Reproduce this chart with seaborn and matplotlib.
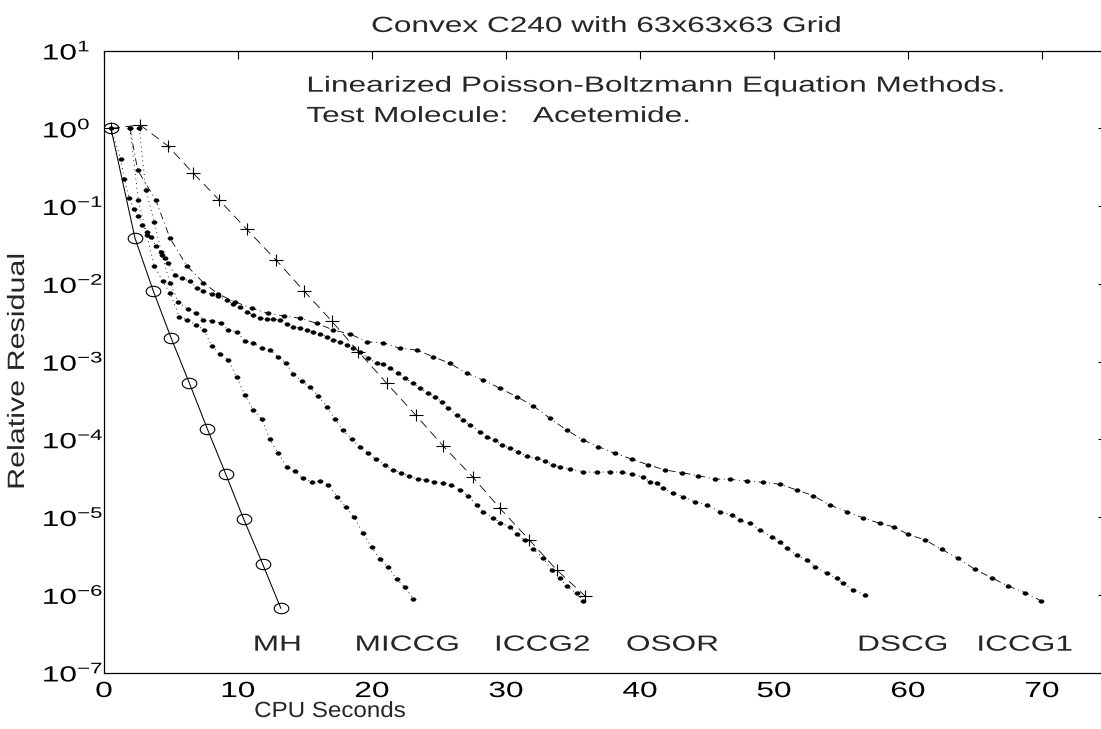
import numpy as np
import matplotlib
matplotlib.use("Agg")
import matplotlib.pyplot as plt
import seaborn as sns
import matplotlib.patheffects as pe
from matplotlib.transforms import Affine2D
from matplotlib.path import Path
from matplotlib.ticker import FixedLocator, LogLocator, NullLocator, NullFormatter, FuncFormatter

# ---------------- data ----------------
mh_x = [0.52, 2.31, 3.68, 5.00, 6.37, 7.71, 9.08, 10.42, 11.84, 13.20]
mh_y = [1.0, 3.9e-2, 8.1e-3, 2.04e-3, 5.3e-4, 1.37e-4, 3.6e-5, 9.5e-6, 2.5e-6, 6.7e-7]

osor_x = [0.52, 2.69, 4.75, 6.62, 8.60, 10.65, 12.84, 14.93, 16.99, 18.98, 21.10, 23.26,
          25.32, 27.51, 29.55, 31.74, 33.78, 35.90]
osor_y = [1.0, 1.11, 0.60, 0.27, 0.120, 0.0505, 0.0203, 8.1e-3, 3.33e-3, 1.35e-3, 5.27e-4,
          2.06e-4, 8.2e-5, 3.3e-5, 1.3e-5, 5.1e-6, 2.1e-6, 9.7e-7]

miccg_x = [1.94, 2.56, 3.19, 3.75, 4.37, 4.93, 5.62, 6.22, 6.87, 7.46, 8.04, 8.66, 9.28,
           9.90, 10.52, 11.14, 11.77, 12.39, 13.01, 13.63, 14.25, 14.87, 15.50, 16.12,
           16.74, 17.41, 18.06, 18.68, 19.31, 19.98, 20.60, 21.22, 21.84, 22.46, 23.08]
miccg_y = [1.0, 0.120, 0.0427, 0.0172, 0.0109, 7.6e-3, 3.79e-3, 3.44e-3, 2.97e-3, 2.56e-3,
           1.59e-3, 1.26e-3, 1.05e-3, 6.3e-4, 3.73e-4, 2.39e-4, 1.82e-4, 1.00e-4, 6.6e-5,
           4.46e-5, 3.96e-5, 3.16e-5, 2.86e-5, 2.92e-5, 2.60e-5, 1.83e-5, 1.34e-5, 9.96e-6,
           6.3e-6, 4.1e-6, 2.87e-6, 2.26e-6, 1.59e-6, 1.25e-6, 9.0e-7]

iccg2_x = [2.63, 3.13, 3.75, 4.33, 4.93, 5.54, 6.25, 6.87, 7.41, 8.08, 8.71, 9.28, 9.90,
           10.52, 11.14, 11.77, 12.39, 13.01, 13.58, 14.13, 14.75, 15.37, 15.99, 16.62,
           17.24, 17.81, 18.49, 19.10, 19.72, 20.30, 20.97, 21.54, 22.16, 22.78, 23.41,
           24.03, 24.65, 25.32, 25.90, 26.57, 27.14, 27.81, 28.31, 29.05, 29.55, 30.30,
           30.80, 31.42, 32.04, 32.78, 33.41, 34.03, 34.53, 35.28, 35.77]
iccg2_y = [1.0, 0.162, 0.063, 0.0236, 0.0103, 5.9e-3, 4.72e-3, 4.19e-3, 3.44e-3, 3.34e-3,
           3.12e-3, 2.56e-3, 2.43e-3, 1.85e-3, 1.75e-3, 1.49e-3, 1.41e-3, 1.16e-3, 9.5e-4,
           6.95e-4, 5.65e-4, 4.69e-4, 3.62e-4, 2.64e-4, 1.83e-4, 1.32e-4, 1.00e-4, 8.1e-5,
           6.6e-5, 5.6e-5, 4.7e-5, 4.05e-5, 3.74e-5, 3.39e-5, 3.07e-5, 3.01e-5, 2.86e-5,
           2.78e-5, 2.60e-5, 2.24e-5, 1.89e-5, 1.43e-5, 1.18e-5, 9.8e-6, 8.5e-6, 7.5e-6,
           6.0e-6, 5.1e-6, 3.86e-6, 2.95e-6, 2.09e-6, 1.64e-6, 1.30e-6, 1.05e-6, 8.4e-7]

dscg_x = [0.52, 1.25, 1.51, 1.89, 2.22, 2.56, 2.86, 3.19, 3.51, 3.86,
          4.23, 4.55, 4.80, 5.30, 5.80, 6.42, 6.92, 7.41, 8.04, 8.49,
          9.16, 9.65, 10.15, 10.65, 11.14, 11.64, 12.14, 12.63, 13.13, 13.63,
          14.13, 14.63, 15.13, 15.62, 16.12, 16.62, 17.11, 17.61, 18.11, 18.60,
          19.10, 19.72, 20.35, 20.84, 21.34, 21.96, 22.46, 23.08, 23.58, 24.20,
          24.70, 25.20, 25.69, 26.32, 26.81, 27.31, 28.06, 28.56, 29.18, 29.68,
          30.30, 30.92, 31.54, 32.29, 32.91, 33.53, 34.03, 34.78, 35.77, 36.77,
          37.76, 38.63, 39.38, 40.25, 40.75, 41.25, 41.74, 42.49, 43.23, 44.10,
          44.98, 45.97, 46.84, 47.46, 48.21, 48.96, 49.83, 50.45, 50.95, 51.69,
          52.44, 53.06, 53.93, 54.68, 55.17, 55.92, 56.79]
dscg_y = [1.0, 0.405, 0.222, 0.126, 0.092, 0.0755, 0.0573, 0.0462, 0.0398, 0.0310,
          0.0260, 0.0216, 0.0184, 0.0130, 0.0118, 0.0109, 8.8e-3, 8.2e-3, 7.4e-3, 7.0e-3,
          6.2e-3, 5.5e-3, 5.1e-3, 4.39e-3, 3.98e-3, 3.61e-3, 3.55e-3, 3.51e-3, 3.44e-3, 3.05e-3,
          2.82e-3, 2.74e-3, 2.56e-3, 2.43e-3, 2.27e-3, 2.10e-3, 1.90e-3, 1.81e-3, 1.64e-3, 1.49e-3,
          1.33e-3, 1.11e-3, 9.6e-4, 9.3e-4, 8.2e-4, 7.1e-4, 6.1e-4, 5.3e-4, 4.55e-4, 3.92e-4,
          3.55e-4, 3.06e-4, 2.52e-4, 2.06e-4, 1.78e-4, 1.54e-4, 1.26e-4, 1.09e-4, 9.8e-5, 8.5e-5,
          7.7e-5, 6.95e-5, 6.1e-5, 5.7e-5, 5.3e-5, 4.7e-5, 4.47e-5, 4.17e-5, 3.85e-5, 3.78e-5,
          3.85e-5, 3.78e-5, 3.60e-5, 3.26e-5, 2.86e-5, 2.73e-5, 2.35e-5, 2.03e-5, 1.84e-5, 1.58e-5,
          1.43e-5, 1.18e-5, 1.07e-5, 9.2e-6, 8.35e-6, 6.85e-6, 5.6e-6, 4.84e-6, 3.98e-6, 3.27e-6,
          2.82e-6, 2.31e-6, 1.90e-6, 1.64e-6, 1.41e-6, 1.16e-6, 1.0e-6]

iccg1_x = [1.94, 2.51, 3.86, 4.93, 6.17, 7.41, 8.53, 9.78, 11.02, 12.26,
           13.43, 14.63, 15.87, 17.11, 18.36, 19.60, 20.84, 22.09, 23.34, 24.57,
           25.82, 27.07, 28.31, 29.55, 30.80, 32.04, 33.28, 34.53, 35.77, 36.89,
           38.13, 39.38, 40.62, 41.87, 43.11, 44.35, 45.60, 46.72, 47.96, 49.20,
           50.45, 51.69, 52.93, 54.18, 55.43, 56.66, 57.91, 58.95, 60.02, 61.27,
           62.51, 63.75, 65.00, 66.25, 67.49, 68.73, 69.93]
iccg1_y = [1.0, 0.292, 0.120, 0.0387, 0.0172, 0.0104, 7.4e-3, 5.9e-3, 4.86e-3, 4.19e-3,
           3.87e-3, 3.62e-3, 3.12e-3, 2.56e-3, 2.27e-3, 1.81e-3, 1.75e-3, 1.49e-3, 1.41e-3, 1.16e-3,
           9.5e-4, 7.1e-4, 5.8e-4, 4.55e-4, 3.55e-4, 2.69e-4, 1.87e-4, 1.32e-4, 9.8e-5, 8.1e-5,
           6.6e-5, 5.6e-5, 4.7e-5, 4.05e-5, 3.74e-5, 3.42e-5, 3.10e-5, 3.07e-5, 2.92e-5, 2.81e-5,
           2.65e-5, 2.24e-5, 1.89e-5, 1.43e-5, 1.18e-5, 9.8e-6, 8.3e-6, 7.5e-6, 6.0e-6, 5.1e-6,
           3.86e-6, 2.95e-6, 2.13e-6, 1.66e-6, 1.30e-6, 1.07e-6, 8.4e-7]

method_labels = ["MH", "MICCG", "ICCG2", "OSOR", "DSCG", "ICCG1"]
label_x = [11.1, 18.7, 29.1, 38.95, 56.2, 65.1]
label_y = 1.92e-7

title_text = "Convex C240 with 63x63x63 Grid"
note_lines = ["Linearized Poisson-Boltzmann Equation Methods.",
              "Test Molecule:   Acetemide."]
note_x = 15.1
note_y = [2.97, 1.21]
xlabel_text = "CPU Seconds"
ylabel_text = "Relative Residual"
x_ticks = [0, 10, 20, 30, 40, 50, 60, 70]
y_exponents = [-7, -6, -5, -4, -3, -2, -1, 0, 1]

# ---------------- style ----------------
sns.set_style("white")
plt.rcParams["font.family"] = ["Liberation Sans", "DejaVu Sans"]
plt.rcParams["mathtext.default"] = "regular"
plt.rcParams["lines.scale_dashes"] = False

SX = 1.44  # horizontal stretch of the lettering in the reference


class Stretch(pe.AbstractPathEffect):
    """Stretch glyph outlines along the text direction (text stays real text)."""

    def __init__(self, sx=SX, anchor="left"):
        super().__init__()
        self.sx = sx
        self.anchor = anchor

    def draw_path(self, renderer, gc, tpath, affine, rgbFace=None):
        ext = tpath.get_extents()
        if self.anchor == "center":
            c = 0.5 * (ext.x0 + ext.x1)
        elif self.anchor == "right":
            c = ext.x1
        else:
            c = 0.0
        t = Affine2D().translate(-c, 0).scale(self.sx, 1.0).translate(c, 0) + affine
        renderer.draw_path(gc, tpath, t, rgbFace)


FS = 15.8

fig = plt.figure(figsize=(11.01, 7.29), dpi=100)
ax = fig.add_axes([104 / 1101, (729 - 672.7) / 729, (1109 - 104) / 1101, 622 / 729])
ax.set_yscale("log")
ax.set_xlim(0, 75)
ax.set_ylim(1e-7, 10)

th = np.linspace(0, 2 * np.pi, 49)
ellipse = Path(np.column_stack([1.4 * np.cos(th), np.sin(th)]), closed=True)
plus = Path([[-1.2, 0], [1.2, 0], [0, -1], [0, 1]],
            [Path.MOVETO, Path.LINETO, Path.MOVETO, Path.LINETO])

dotted = (0, (0.7, 2.6))
dashdot = (0, (5.0, 2.6, 0.7, 2.6))
dashed = (0, (6.5, 4.0))


def draw(x, y, ls, marker, ms, mfc, mew, lw=0.6):
    sns.lineplot(x=x, y=y, ax=ax, color="black", linestyle=ls, linewidth=lw,
                 marker=marker, markersize=ms, markerfacecolor=mfc,
                 markeredgecolor="black", markeredgewidth=mew,
                 estimator=None, sort=False, legend=False)


DOT = 3.8
draw(mh_x, mh_y, "-", ellipse, 10.5, "none", 0.8, lw=0.75)
draw(osor_x, osor_y, dashed, plus, 10.0, "none", 0.8)
draw(miccg_x, miccg_y, dotted, ellipse, DOT, "black", 0.3)
draw(iccg2_x, iccg2_y, dotted, ellipse, DOT, "black", 0.3)
draw(dscg_x, dscg_y, dotted, ellipse, DOT, "black", 0.3)
draw(iccg1_x, iccg1_y, dashdot, ellipse, DOT, "black", 0.3)

# ---------------- axes decoration ----------------
for s in ax.spines.values():
    s.set_linewidth(0.9)
    s.set_color("black")

ax.xaxis.set_major_locator(FixedLocator(x_ticks))
ax.xaxis.set_minor_locator(NullLocator())
ax.yaxis.set_major_locator(FixedLocator([10.0 ** e for e in y_exponents]))
ax.yaxis.set_minor_locator(LogLocator(base=10, subs=np.arange(2, 10), numticks=50))
ax.yaxis.set_minor_formatter(NullFormatter())
ax.yaxis.set_major_formatter(FuncFormatter(lambda v, p: r"$\mathregular{10^{%d}}$" % int(round(np.log10(v)))))

ax.tick_params(which="both", direction="in", top=True, right=True, colors="black")
ax.tick_params(axis="x", which="major", length=5.5, width=0.8, pad=6, labelsize=FS)
ax.tick_params(axis="y", which="major", length=7.7, width=0.8, pad=44.8, labelsize=FS)
ax.tick_params(axis="y", which="minor", length=4.8, width=0.7)

ax.set_title(title_text, fontsize=FS, pad=13.5, path_effects=[Stretch(SX, "center")])
ax.set_xlabel(xlabel_text, fontsize=FS, path_effects=[Stretch(1.1, "center")])
ax.xaxis.set_label_coords((330 - 104) / 1005, (672.7 - 701) / 622)
ax.set_ylabel(ylabel_text, fontsize=17, va="center", path_effects=[Stretch(1.29, "center")])
ax.yaxis.set_label_coords((18 - 104) / 1005, (672.7 - 371) / 622)

for txt, yy in zip(note_lines, note_y):
    ax.text(note_x, yy, txt, fontsize=FS, ha="left", va="baseline",
            path_effects=[Stretch(SX, "left")])

for lab, lx in zip(method_labels, label_x):
    ax.text(lx, label_y, lab, fontsize=FS, ha="left", va="baseline",
            path_effects=[Stretch(SX, "left")])

fig.canvas.draw()
for t in ax.xaxis.get_major_ticks():
    t.label1.set_path_effects([Stretch(SX, "center")])
for t in ax.yaxis.get_major_ticks():
    t.label1.set_horizontalalignment("left")
    t.label1.set_path_effects([Stretch(SX, "left")])

fig.savefig("out.png", dpi=100, facecolor="white")
